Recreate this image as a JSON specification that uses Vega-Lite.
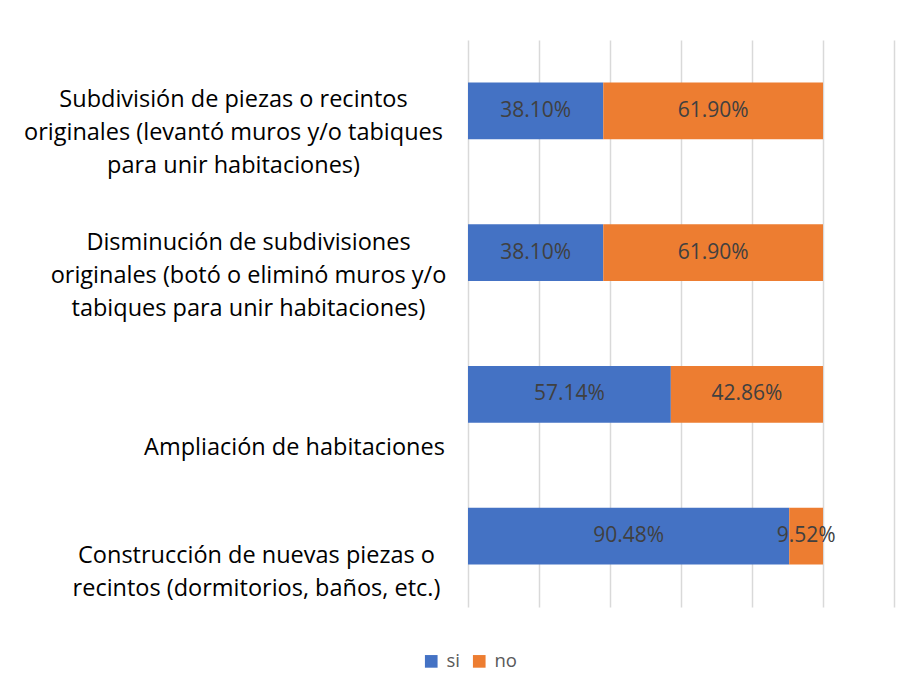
{
  "$schema": "https://vega.github.io/schema/vega-lite/v6.json",
  "autosize": "none",
  "width": 426,
  "height": 567,
  "padding": {"left": 468, "top": 40, "right": 16, "bottom": 86},
  "background": "white",
  "config": {"view": {"stroke": null}, "font": "Open Sans"},
  "data": {"values": [
    {"categoria": "Subdivisión de piezas o recintos\noriginales (levantó muros y/o tabiques\npara unir habitaciones)", "serie": "si", "valor": 0.381},
    {"categoria": "Subdivisión de piezas o recintos\noriginales (levantó muros y/o tabiques\npara unir habitaciones)", "serie": "no", "valor": 0.619},
    {"categoria": "Disminución de subdivisiones\noriginales (botó o eliminó muros y/o\ntabiques para unir habitaciones)", "serie": "si", "valor": 0.381},
    {"categoria": "Disminución de subdivisiones\noriginales (botó o eliminó muros y/o\ntabiques para unir habitaciones)", "serie": "no", "valor": 0.619},
    {"categoria": "Ampliación de habitaciones", "serie": "si", "valor": 0.5714},
    {"categoria": "Ampliación de habitaciones", "serie": "no", "valor": 0.4286},
    {"categoria": "Construcción de nuevas piezas o\nrecintos (dormitorios, baños, etc.)", "serie": "si", "valor": 0.9048},
    {"categoria": "Construcción de nuevas piezas o\nrecintos (dormitorios, baños, etc.)", "serie": "no", "valor": 0.0952}
  ]},
  "transform": [
    {"stack": "valor", "groupby": ["categoria"], "sort": [{"field": "serie", "order": "descending"}], "as": ["x0", "x1"]},
    {"calculate": "(datum.x0 + datum.x1) / 2", "as": "xm"}
  ],
  "encoding": {
    "y": {
      "field": "categoria", "type": "nominal", "sort": null, "title": null,
      "scale": {"paddingInner": 0.6, "paddingOuter": 0.3},
      "axis": {
        "domain": false, "ticks": false, "grid": false,
        "labelExpr": "split(datum.value, '\\n')",
        "labelFont": "Open Sans", "labelFontSize": 23.5, "labelColor": "#000000",
        "labelAlign": "center", "labelBaseline": "middle", "labelLineHeight": 33,
        "labelLimit": 600,
        "labelPadding": {"condition": [
          {"test": "indexof(datum.value, 'Disminución') == 0", "value": 220},
          {"test": "indexof(datum.value, 'Ampliación') == 0", "value": 174},
          {"test": "indexof(datum.value, 'Construcción') == 0", "value": 212}
        ], "value": 235},
        "labelOffset": {"condition": [
          {"test": "indexof(datum.value, 'Disminución') == 0", "value": -10},
          {"test": "indexof(datum.value, 'Ampliación') == 0", "value": 54},
          {"test": "indexof(datum.value, 'Construcción') == 0", "value": 20}
        ], "value": -11}
      }
    }
  },
  "layer": [
    {
      "mark": {"type": "bar"},
      "encoding": {
        "x": {"field": "x0", "type": "quantitative", "scale": {"domain": [0, 1.2], "nice": false},
          "axis": {"values": [0, 0.2, 0.4, 0.6, 0.8, 1.0, 1.2], "labels": false, "ticks": false, "domain": false, "title": null, "grid": true, "gridColor": "#D9D9D9", "gridWidth": 1.5}},
        "x2": {"field": "x1"},
        "color": {"field": "serie", "type": "nominal", "title": null,
          "scale": {"domain": ["si", "no"], "range": ["#4472C4", "#ED7D31"]},
          "legend": {"orient": "none", "legendX": -46, "legendY": 612, "direction": "horizontal", "symbolType": "square", "symbolSize": 160, "symbolStrokeWidth": 0, "labelFont": "Open Sans", "labelFontSize": 18.5, "labelColor": "#595959", "columnPadding": 10, "labelOffset": 6}}
      }
    },
    {
      "mark": {"type": "text", "font": "Open Sans", "fontSize": 21, "color": "#404040", "align": "center", "baseline": "middle"},
      "encoding": {
        "x": {"field": "xm", "type": "quantitative"},
        "text": {"field": "valor", "type": "quantitative", "format": ".2%"}
      }
    }
  ]
}
